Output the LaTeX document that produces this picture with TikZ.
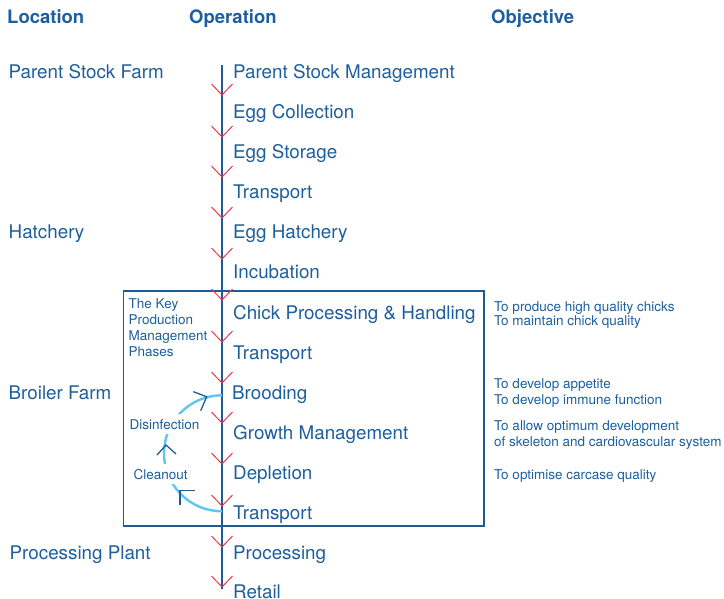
\documentclass[tikz,border=0pt]{standalone}
\usepackage{fontspec}
\setmainfont{TeX Gyre Heros}
\definecolor{txtblue}{HTML}{1D5E9C}
\definecolor{linblue}{HTML}{1F5A96}
\definecolor{chevred}{HTML}{EA3A47}
\definecolor{arccyan}{HTML}{5EC6EF}
\begin{document}
\begin{tikzpicture}[x=1pt,y=-1pt,
  big/.style={anchor=base west, inner sep=0pt, text=txtblue, font=\fontsize{18.8}{22}\selectfont},
  head/.style={anchor=base west, inner sep=0pt, text=txtblue, font=\fontsize{18.5}{22}\selectfont\bfseries},
  small/.style={anchor=base west, inner sep=0pt, text=txtblue, font=\fontsize{13.5}{16}\selectfont},
  cyclelbl/.style={anchor=base west, inner xsep=2pt, inner ysep=5pt, fill=white, text=txtblue, font=\fontsize{13.5}{16}\selectfont},
  chev/.style={draw=chevred, line width=1pt},
  mainline/.style={draw=linblue, line width=1.3pt},
  boxline/.style={draw=linblue, line width=1.3pt},
  cyclearc/.style={draw=arccyan, line width=2.4pt},
  cyclehead/.style={draw=linblue, line width=1.3pt}]
\useasboundingbox (0,0) rectangle (724,599);

% headers
\node[head] (hloc) at (7,23.6) {Location};
\node[head] (hop)  at (189,23.6) {Operation};
\node[head] (hobj) at (491,23.6) {Objective};

% phase box
\draw[boxline] (123.3,291) rectangle (484,526);

% main vertical line
\coordinate (ltop) at (222,65);
\coordinate (lbot) at (222,589);
\draw[mainline] (ltop) -- (lbot);

% cycle arc
\coordinate (arctop) at (222,395.3);
\draw[cyclearc] (arctop) arc[start angle=270, end angle=90, radius=58];

% operations
\node[big] (o1)  at (233,78.5)  {Parent Stock Management};
\node[big] (o2)  at (233,118.6) {Egg Collection};
\node[big] (o3)  at (233,158.7) {Egg Storage};
\node[big] (o4)  at (233,198.8) {Transport};
\node[big] (o5)  at (233,238.9) {Egg Hatchery};
\node[big] (o6)  at (233,279)   {Incubation};
\node[big] (o7)  at (233,319.1) {Chick Processing \& Handling};
\node[big] (o8)  at (233,359.2) {Transport};
\node[big] (o9)  at (232,399.3) {Brooding};
\node[big] (o10) at (233,439.4) {Growth Management};
\node[big] (o11) at (233,479.5) {Depletion};
\node[big] (o12) at (233,519.6) {Transport};
\node[big] (o13) at (233,559.7) {Processing};
\node[big] (o14) at (233,598.6) {Retail};

% locations
\node[big] (l1) at (8.5,78.5)  {Parent Stock Farm};
\node[big] (l2) at (8.5,238.9) {Hatchery};
\node[big] (l3) at (8.5,399.3) {Broiler Farm};
\node[big] (l4) at (9.5,559.7) {Processing Plant};

% box caption
\node[small] (k1) at (128.5,308.3) {The Key};
\node[small] (k2) at (128.5,324.4) {Production};
\node[small] (k3) at (128.5,340.5) {Management};
\node[small] (k4) at (128.5,356.6) {Phases};

% cycle labels
\node[cyclelbl] (dis) at (127.5,429) {Disinfection};
\node[cyclelbl] (cln) at (131.5,479) {Cleanout};

% cycle arrow heads
\draw[cyclehead] (193.3,391.7) -- (206.7,396.7) -- (200.7,410.7);
\draw[cyclehead] (157,455) -- (166,445) -- (176,454);
\draw[cyclehead] (194.5,490.7) -- (180,490.7) -- (180,505);

% objectives
\node[small] (b1) at (494,311.7) {To produce high quality chicks};
\node[small] (b2) at (494,325.5) {To maintain chick quality};
\node[small] (b3) at (494,388.3) {To develop appetite};
\node[small] (b4) at (494,404.3) {To develop immune function};
\node[small] (b5) at (494,430.7) {To allow optimum development};
\node[small] (b6) at (494,446.7) {of skeleton and cardiovascular system};
\node[small] (b7) at (494,479.3) {To optimise carcase quality};

% red chevrons
\foreach \ty in {95,137,177,218,259,300,342,383,423,464,506,547,587}{
  \draw[chev] (222,\ty) +(-10.5,-11) -- (222,\ty) -- +(10.5,-11);
}
\end{tikzpicture}
\end{document}
